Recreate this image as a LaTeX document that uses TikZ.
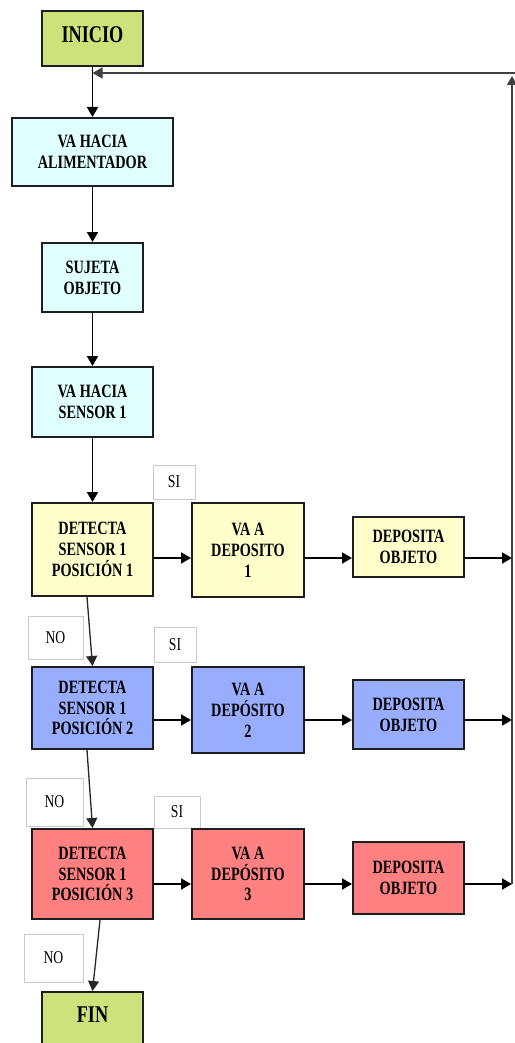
\documentclass[tikz,border=0pt]{standalone}
\usepackage{fontspec}
\setmainfont{Liberation Serif}[FakeStretch=0.76]
\usetikzlibrary{arrows.meta}
\definecolor{cgreen}{RGB}{205,226,122}
\definecolor{ccyan}{RGB}{224,255,255}
\definecolor{cyel}{RGB}{255,255,204}
\definecolor{cblue}{RGB}{153,173,255}
\definecolor{cred}{RGB}{255,128,128}
\definecolor{cline}{RGB}{30,30,30}
\definecolor{cgray}{RGB}{200,200,200}
\begin{document}
\begin{tikzpicture}[x=1pt,y=-1pt,
  bx/.style={draw=cline, line width=2pt, inner sep=0pt, align=center,
    font=\bfseries\fontsize{18.8}{20.8}\selectfont},
  big/.style={bx, font=\bfseries\fontsize{24}{26}\selectfont, text depth=8pt},
  lbl/.style={draw=cgray, line width=1pt, inner sep=0pt, align=center,
    font=\fontsize{18}{20}\selectfont},
  conn/.style={draw=black, line width=1.9pt, -{Triangle[length=10pt,width=11pt]}},
  connthin/.style={draw=black!85, line width=1.3pt, -{Triangle[length=10pt,width=11pt]}},
  loopline/.style={draw=black!75, line width=1.1pt}
]
\useasboundingbox (0,0) rectangle (514,1043);

% main column
\node[big, fill=cgreen, minimum width=101pt, minimum height=55pt] (inicio) at (92.5,38.5) {INICIO};
\node[bx, fill=ccyan, minimum width=161pt, minimum height=68pt] (alim) at (92.5,152) {VA HACIA\\ALIMENTADOR};
\node[bx, fill=ccyan, minimum width=101pt, minimum height=69pt] (suj) at (92.5,277.5) {SUJETA\\OBJETO};
\node[bx, fill=ccyan, minimum width=121pt, minimum height=70pt] (vas) at (92.5,402) {VA HACIA\\SENSOR 1};

% row 1
\node[lbl, minimum width=42pt, minimum height=34pt] (si1) at (174,482) {SI};
\node[bx, fill=cyel, minimum width=121pt, minimum height=93pt] (det1) at (92.5,549.5) {DETECTA\\SENSOR 1\\POSICIÓN 1};
\node[bx, fill=cyel, minimum width=112pt, minimum height=94pt] (vad1) at (248,550) {VA A\\DEPOSITO\\1};
\node[bx, fill=cyel, minimum width=111pt, minimum height=60pt] (dep1) at (408.5,547) {DEPOSITA\\OBJETO};

% row 2
\node[lbl, minimum width=55pt, minimum height=43pt] (no1) at (55.5,637.5) {NO};
\node[lbl, minimum width=42pt, minimum height=35pt] (si2) at (175,644.5) {SI};
\node[bx, fill=cblue, minimum width=121pt, minimum height=82pt] (det2) at (92.5,708) {DETECTA\\SENSOR 1\\POSICIÓN 2};
\node[bx, fill=cblue, minimum width=112pt, minimum height=86pt] (vad2) at (248,710) {VA A\\DEPÓSITO\\2};
\node[bx, fill=cblue, minimum width=111pt, minimum height=69pt] (dep2) at (408.5,714.5) {DEPOSITA\\OBJETO};

% row 3
\node[lbl, minimum width=57pt, minimum height=48pt] (no2) at (54.5,802) {NO};
\node[lbl, minimum width=46pt, minimum height=32pt] (si3) at (177,812) {SI};
\node[bx, fill=cred, minimum width=121pt, minimum height=90pt] (det3) at (92.5,874) {DETECTA\\SENSOR 1\\POSICIÓN 3};
\node[bx, fill=cred, minimum width=112pt, minimum height=90pt] (vad3) at (248,874) {VA A\\DEPÓSITO\\3};
\node[bx, fill=cred, minimum width=111pt, minimum height=72pt] (dep3) at (408.5,878) {DEPOSITA\\OBJETO};

% end
\node[lbl, minimum width=59pt, minimum height=48pt] (no3) at (53.5,958) {NO};
\node[big, fill=cgreen, minimum width=101pt, minimum height=54pt] (fin) at (92.5,1019) {FIN};

% return path coordinates
\coordinate (r1) at (512,558);
\coordinate (r2) at (512,720);
\coordinate (r3) at (512,884);
\coordinate (rtop) at (512,76);
\coordinate (redge) at (515,73);
\coordinate (tin) at (92.5,73);

% vertical flow
\draw[conn] (inicio) -- (alim);
\draw[conn] (alim) -- (suj);
\draw[conn] (suj) -- (vas);
\draw[conn] (vas) -- (det1);
\draw[connthin] ([xshift=-5.5pt]det1.south) -- (det2.north);
\draw[connthin] ([xshift=-5.5pt]det2.south) -- (det3.north);
\draw[connthin] ([xshift=7.5pt]det3.south) -- (fin.north);

% rows
\draw[conn] (det1.east |- r1) -- (vad1.west |- r1);
\draw[conn] (vad1.east |- r1) -- (dep1.west |- r1);
\draw[conn] (dep1.east |- r1) -- (r1);
\draw[conn] (det2.east |- r2) -- (vad2.west |- r2);
\draw[conn] (vad2.east |- r2) -- (dep2.west |- r2);
\draw[conn] (dep2.east |- r2) -- (r2);
\draw[conn] (det3.east |- r3) -- (vad3.west |- r3);
\draw[conn] (vad3.east |- r3) -- (dep3.west |- r3);
\draw[conn] (dep3.east |- r3) -- (r3);

% return loop
\draw[loopline, -{Triangle[length=9pt,width=10pt]}] (r3) -- (rtop);
\draw[loopline, line width=1.5pt, -{Triangle[length=10pt,width=11pt]}] (redge) -- (tin);
\end{tikzpicture}
\end{document}
